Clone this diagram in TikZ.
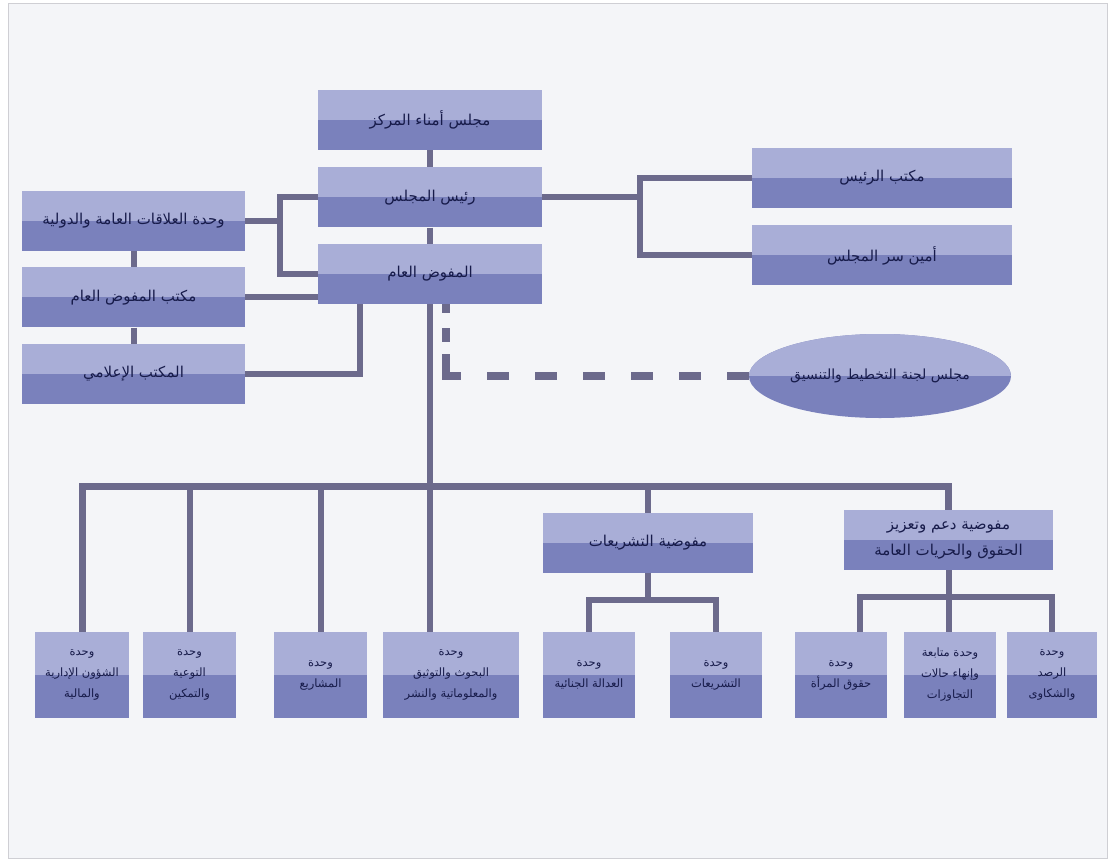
\documentclass[tikz,border=0pt]{standalone}
\usepackage{fontspec}
\usepackage{tikz}
\usetikzlibrary{positioning,shapes.geometric}
\newfontfamily\arabicfont[Script=Arabic]{DejaVu Sans}
\TeXXeTstate=1
\newcommand{\artxt}[1]{\beginR #1\endR}
\definecolor{pagebg}{HTML}{F4F5F8}
\definecolor{framegray}{HTML}{CFCFD4}
\definecolor{boxlight}{HTML}{A9AED7}
\definecolor{boxdark}{HTML}{7A81BC}
\definecolor{linkgray}{HTML}{6C6A8C}
\definecolor{labelblue}{HTML}{171B4A}

\begin{document}
\begin{tikzpicture}[x=1pt, y=-1pt,
  twotone/.style={fill=boxdark, path picture={\fill[boxlight] (path picture bounding box.north west) rectangle (path picture bounding box.east);}},
  box/.style={twotone, minimum width=224pt, minimum height=60pt, inner sep=2pt, align=center, text=labelblue,
    font=\arabicfont\fontsize{15}{26}\selectfont},
  unit/.style={box, minimum width=93pt, minimum height=86pt, font=\arabicfont\fontsize{11.5}{21}\selectfont},
  council/.style={box, ellipse, minimum width=262pt, minimum height=84pt, inner sep=0pt,
    font=\arabicfont\fontsize{14}{20}\selectfont},
  link/.style={draw=linkgray, line width=6pt},
  dashlink/.style={draw=linkgray, line width=8pt,
    dash pattern=on 22pt off 26pt on 22pt off 26pt on 22pt off 26pt on 22pt off 26pt on 22pt off 26pt on 22pt off 26pt on 37pt off 12pt on 14pt off 15pt on 11pt off 100pt}]
\useasboundingbox (0,0) rectangle (1116,862);
\draw[framegray, fill=pagebg] (8,3) rectangle (1107,858);

% top of the chart
\node[box] (trustees) at (430,120) {\artxt{مجلس أمناء المركز}};
\node[box, below=17pt of trustees] (chair) {\artxt{رئيس المجلس}};
\node[box, below=16pt of chair] (comm) {\artxt{المفوض العام}};
\node[box, minimum width=260pt] (choffice) at (882,178) {\artxt{مكتب الرئيس}};
\node[box, minimum width=260pt, below=17pt of choffice] (secretary) {\artxt{أمين سر المجلس}};
\node[box, minimum width=223pt] (pr) at (133.5,221) {\artxt{وحدة العلاقات العامة والدولية}};
\node[box, minimum width=223pt, below=16pt of pr] (commoffice) {\artxt{مكتب المفوض العام}};
\node[box, minimum width=223pt, below=16pt of commoffice] (media) {\artxt{المكتب الإعلامي}};
\node[council] (planning) at (880,376) {\artxt{مجلس لجنة التخطيط والتنسيق}};

% commissions
\node[box, minimum width=210pt] (legis) at (648,543) {\artxt{مفوضية التشريعات}};
\node[box, minimum width=209pt] (rights) at (948.5,540) {\artxt{مفوضية دعم وتعزيز}\\\artxt{الحقوق والحريات العامة}};

% units
\node[unit, minimum width=94pt] (admin) at (82,675) {\artxt{وحدة}\\\artxt{الشؤون الإدارية}\\\artxt{والمالية}};
\node[unit] (aware) at (189.5,675) {\artxt{وحدة}\\\artxt{التوعية}\\\artxt{والتمكين}};
\node[unit] (projects) at (320.5,675) {\artxt{وحدة}\\\artxt{المشاريع}};
\node[unit, minimum width=136pt] (research) at (451,675) {\artxt{وحدة}\\\artxt{البحوث والتوثيق}\\\artxt{والمعلوماتية والنشر}};
\node[unit, minimum width=92pt] (justice) at (589,675) {\artxt{وحدة}\\\artxt{العدالة الجنائية}};
\node[unit, minimum width=92pt] (laws) at (716,675) {\artxt{وحدة}\\\artxt{التشريعات}};
\node[unit, minimum width=92pt] (women) at (841,675) {\artxt{وحدة}\\\artxt{حقوق المرأة}};
\node[unit, minimum width=92pt] (followup) at (950,675) {\artxt{وحدة متابعة}\\\artxt{وإنهاء حالات}\\\artxt{التجاوزات}};
\node[unit, minimum width=90pt] (monitor) at (1052,675) {\artxt{وحدة}\\\artxt{الرصد}\\\artxt{والشكاوى}};

\coordinate[right=98pt of chair] (rbrk);
\coordinate[right=35pt of pr] (lbrk);
\coordinate (mtop) at ([xshift=-70pt]comm.south);
\coordinate (dtop) at ([xshift=16pt]comm.south);
\coordinate (bus) at (430,486);
\coordinate[below=27pt of legis] (lsub);
\coordinate[below=27pt of rights] (rsub);

\draw[link] (trustees) -- (chair);
\draw[link] (chair) -- (comm);
\draw[link] (chair.east) -- (rbrk);
\draw[link] (choffice.west) -| (rbrk) |- (secretary.west);
\draw[link] (pr.east) -- (lbrk);
\draw[link] (chair.west) -| (lbrk) |- (comm.west);
\draw[link] (commoffice.east) -- (commoffice.east -| comm.west);
\draw[link] (media.east) -| (mtop);
\draw[link] (pr) -- (commoffice);
\draw[link] (commoffice) -- (media);
\draw[dashlink] (planning.west) -| (dtop);

\draw[link] (comm.south) -- (comm.south |- research.north);
\draw[link, line width=7pt] (admin.north) |- (bus) -| (rights.north);
\draw[link] (aware.north) -- (aware.north |- bus);
\draw[link] (projects.north) -- (projects.north |- bus);
\draw[link] (legis.north) -- (legis.north |- bus);

\draw[link] (legis) -- (lsub);
\draw[link] (justice) |- (lsub) -| (laws);
\draw[link] (rights.south) -- (rsub) -- (rsub |- followup.north);
\draw[link] ([xshift=19pt]women.north) |- (rsub) -| (monitor.north);
\end{tikzpicture}
\end{document}
